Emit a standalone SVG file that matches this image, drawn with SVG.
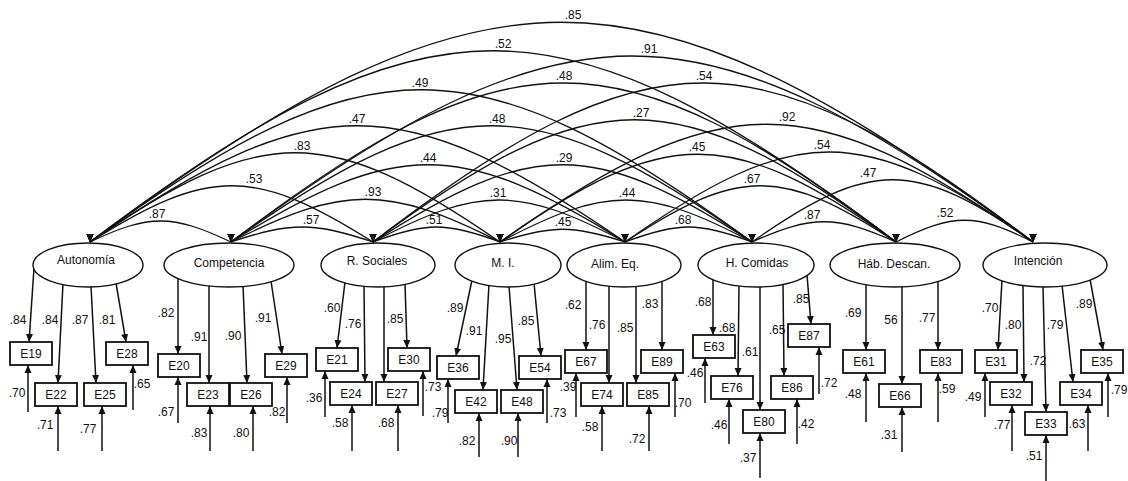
<svg xmlns="http://www.w3.org/2000/svg" width="1128" height="481" viewBox="0 0 1128 481">
<style>
.ln{stroke:#111;stroke-width:1.5;fill:none}
.ld{stroke:#111;stroke-width:1.5;fill:none;marker-end:url(#ah)}
.arc{stroke:#111;stroke-width:1.3;fill:none;marker-start:url(#tipd);marker-end:url(#tipd)}
.lat{fill:#fff;stroke:#111;stroke-width:1.4}
.box{fill:#fff;stroke:#111;stroke-width:1.8}
text{font-family:"Liberation Sans",Arial,sans-serif;font-size:12px;fill:#111;text-anchor:middle}
</style>
<defs>
<marker id="ah" viewBox="0 0 8 8" refX="8" refY="4" markerWidth="8" markerHeight="8" orient="auto" markerUnits="userSpaceOnUse"><path d="M0,0.5 L8,4 L0,7.5 z" fill="#111"/></marker>
<marker id="tipd" viewBox="0 0 8 8" refX="8" refY="4" markerWidth="8" markerHeight="8" orient="90" markerUnits="userSpaceOnUse"><path d="M0,0.5 L8,4 L0,7.5 z" fill="#111"/></marker>
</defs>
<rect width="1128" height="481" fill="#fff"/>
<g id="connectors">
<path class="arc" d="M90,242 C149,214 172,214 231,242"/>
<path class="arc" d="M231,242 C291,222 313,222 373,242"/>
<path class="arc" d="M373,242 C426,222 447,222 500,242"/>
<path class="arc" d="M500,242 C552,225 573,225 625,242"/>
<path class="arc" d="M625,242 C678,222 699,222 752,242"/>
<path class="arc" d="M752,242 C812,215 836,215 896,242"/>
<path class="arc" d="M896,242 C954,213 975,213 1033,242"/>
<path class="arc" d="M90,242 C209,167 254,167 373,242"/>
<path class="arc" d="M231,242 C344,185 387,185 500,242"/>
<path class="arc" d="M373,242 C479,186 519,186 625,242"/>
<path class="arc" d="M500,242 C606,186 646,186 752,242"/>
<path class="arc" d="M625,242 C739,167 782,167 896,242"/>
<path class="arc" d="M752,242 C870,159 915,159 1033,242"/>
<path class="arc" d="M90,242 C262,123 328,123 500,242"/>
<path class="arc" d="M231,242 C396,139 460,139 625,242"/>
<path class="arc" d="M373,242 C532,139 593,139 752,242"/>
<path class="arc" d="M500,242 C666,125 730,125 896,242"/>
<path class="arc" d="M625,242 C796,122 862,122 1033,242"/>
<path class="arc" d="M90,242 C315,87 400,87 625,242"/>
<path class="arc" d="M231,242 C450,87 533,87 752,242"/>
<path class="arc" d="M373,242 C593,79 676,79 896,242"/>
<path class="arc" d="M500,242 C724,85 809,85 1033,242"/>
<path class="arc" d="M90,242 C368,39 474,39 752,242"/>
<path class="arc" d="M231,242 C510,30 617,30 896,242"/>
<path class="arc" d="M373,242 C650,30 756,30 1033,242"/>
<path class="arc" d="M90,242 C428,-13 558,-13 896,242"/>
<path class="arc" d="M231,242 C568,-6 696,-6 1033,242"/>
<path class="arc" d="M90,242 C486,-51 637,-51 1033,242"/>
<path class="ld" d="M34,268 L29,342"/>
<path class="ld" d="M63,283 L58,383"/>
<path class="ld" d="M91,286 L96,383"/>
<path class="ld" d="M116,283 L126,342"/>
<path class="ld" d="M178,277 L178,354"/>
<path class="ld" d="M209,285 L209,383"/>
<path class="ld" d="M243,285 L247,383"/>
<path class="ld" d="M271,281 L282,354"/>
<path class="ld" d="M345,282 L337,348"/>
<path class="ld" d="M364,285 L365,382"/>
<path class="ld" d="M384,286 L384,382"/>
<path class="ld" d="M405,283 L407,348"/>
<path class="ld" d="M472,280 L456,356"/>
<path class="ld" d="M489,284 L483,390"/>
<path class="ld" d="M509,286 L517,390"/>
<path class="ld" d="M534,283 L541,356"/>
<path class="ld" d="M586,280 L586,350"/>
<path class="ld" d="M609,285 L609,383"/>
<path class="ld" d="M636,285 L636,383"/>
<path class="ld" d="M662,280 L662,350"/>
<path class="ld" d="M713,279 L713,335"/>
<path class="ld" d="M739,285 L738,376"/>
<path class="ld" d="M760,286 L760,410"/>
<path class="ld" d="M783,283 L784,376"/>
<path class="ld" d="M807,275 L811,324"/>
<path class="ld" d="M866,284 L866,350"/>
<path class="ld" d="M902,286 L902,384"/>
<path class="ld" d="M938,281 L938,350"/>
<path class="ld" d="M1002,280 L998,350"/>
<path class="ld" d="M1023,285 L1024,382"/>
<path class="ld" d="M1043,286 L1046,412"/>
<path class="ld" d="M1062,285 L1073,382"/>
<path class="ld" d="M1090,279 L1103,350"/>
<path class="ld" d="M28,412 L28,365"/>
<path class="ld" d="M58,451 L58,406"/>
<path class="ld" d="M102,451 L102,406"/>
<path class="ld" d="M133,410 L133,365"/>
<path class="ld" d="M178,423 L178,377"/>
<path class="ld" d="M210,451 L210,406"/>
<path class="ld" d="M253,451 L253,406"/>
<path class="ld" d="M287,423 L287,377"/>
<path class="ld" d="M325,417 L325,371"/>
<path class="ld" d="M352,451 L352,405"/>
<path class="ld" d="M398,451 L398,405"/>
<path class="ld" d="M423,416 L423,371"/>
<path class="ld" d="M448,423 L448,379"/>
<path class="ld" d="M479,457 L479,413"/>
<path class="ld" d="M518,457 L518,413"/>
<path class="ld" d="M547,423 L547,379"/>
<path class="ld" d="M576,417 L576,373"/>
<path class="ld" d="M602,451 L602,406"/>
<path class="ld" d="M649,451 L649,406"/>
<path class="ld" d="M675,417 L675,373"/>
<path class="ld" d="M705,403 L705,358"/>
<path class="ld" d="M729,444 L729,399"/>
<path class="ld" d="M760,478 L760,433"/>
<path class="ld" d="M797,444 L797,399"/>
<path class="ld" d="M819,394 L819,347"/>
<path class="ld" d="M866,422 L866,373"/>
<path class="ld" d="M902,452 L902,407"/>
<path class="ld" d="M938,422 L938,373"/>
<path class="ld" d="M985,417 L985,373"/>
<path class="ld" d="M1012,451 L1012,405"/>
<path class="ld" d="M1046,481 L1046,435"/>
<path class="ld" d="M1088,451 L1088,405"/>
<path class="ld" d="M1108,417 L1108,373"/>
</g>
<g id="labels">
<text x="157" y="218">.87</text>
<text x="311" y="224">.57</text>
<text x="434" y="224">.51</text>
<text x="563" y="226">.45</text>
<text x="683" y="224">.68</text>
<text x="812" y="219">.87</text>
<text x="945" y="217">.52</text>
<text x="254" y="183">.53</text>
<text x="373" y="196">.93</text>
<text x="498" y="197">.31</text>
<text x="627" y="197">.44</text>
<text x="752" y="183">.67</text>
<text x="868" y="177">.47</text>
<text x="302" y="150">.83</text>
<text x="428" y="162">.44</text>
<text x="564" y="162">.29</text>
<text x="697" y="151">.45</text>
<text x="822" y="149">.54</text>
<text x="357" y="123">.47</text>
<text x="497" y="123">.48</text>
<text x="641" y="117">.27</text>
<text x="787" y="121">.92</text>
<text x="420" y="87">.49</text>
<text x="564" y="80">.48</text>
<text x="704" y="80">.54</text>
<text x="503" y="48">.52</text>
<text x="649" y="53">.91</text>
<text x="573" y="19">.85</text>
<text x="18" y="324">.84</text>
<text x="50" y="324">.84</text>
<text x="80" y="324">.87</text>
<text x="107" y="324">.81</text>
<text x="17" y="397">.70</text>
<text x="45" y="429">.71</text>
<text x="88" y="433">.77</text>
<text x="142" y="388">.65</text>
<text x="166" y="317">.82</text>
<text x="199" y="341">.91</text>
<text x="233" y="340">.90</text>
<text x="263" y="322">.91</text>
<text x="166" y="416">.67</text>
<text x="199" y="437">.83</text>
<text x="241" y="437">.80</text>
<text x="277" y="416">.82</text>
<text x="332" y="312">.60</text>
<text x="353" y="328">.76</text>
<text x="395" y="323">.85</text>
<text x="314" y="402">.36</text>
<text x="340" y="427">.58</text>
<text x="386" y="427">.68</text>
<text x="433" y="391">.73</text>
<text x="455" y="312">.89</text>
<text x="474" y="335">.91</text>
<text x="503" y="343">.95</text>
<text x="526" y="325">.85</text>
<text x="440" y="417">.79</text>
<text x="467" y="445">.82</text>
<text x="509" y="445">.90</text>
<text x="558" y="417">.73</text>
<text x="573" y="309">.62</text>
<text x="597" y="329">.76</text>
<text x="625" y="332">.85</text>
<text x="650" y="308">.83</text>
<text x="568" y="391">.39</text>
<text x="590" y="431">.58</text>
<text x="637" y="443">.72</text>
<text x="683" y="407">.70</text>
<text x="703" y="306">.68</text>
<text x="727" y="332">.68</text>
<text x="750" y="356">.61</text>
<text x="777" y="334">.65</text>
<text x="801" y="303">.85</text>
<text x="695" y="377">.46</text>
<text x="719" y="429">.46</text>
<text x="748" y="462">.37</text>
<text x="806" y="428">.42</text>
<text x="829" y="387">.72</text>
<text x="853" y="317">.69</text>
<text x="891" y="324">56</text>
<text x="927" y="322">.77</text>
<text x="853" y="398">.48</text>
<text x="889" y="439">.31</text>
<text x="947" y="393">.59</text>
<text x="990" y="312">.70</text>
<text x="1013" y="329">.80</text>
<text x="1038" y="365">.72</text>
<text x="1055" y="329">.79</text>
<text x="1084" y="308">.89</text>
<text x="973" y="401">.49</text>
<text x="1002" y="429">.77</text>
<text x="1034" y="460">.51</text>
<text x="1077" y="428">.63</text>
<text x="1119" y="394">.79</text>
</g>
<g id="n-autonomia"><ellipse class="lat" cx="88" cy="265" rx="55" ry="22"/><text x="86" y="264">Autonomía</text></g>
<g id="n-competencia"><ellipse class="lat" cx="229" cy="265" rx="65" ry="22"/><text x="229" y="267">Competencia</text></g>
<g id="n-rsociales"><ellipse class="lat" cx="378" cy="265" rx="57" ry="22"/><text x="377" y="265">R. Sociales</text></g>
<g id="n-mi"><ellipse class="lat" cx="508" cy="265" rx="53" ry="22"/><text x="503" y="267">M. I.</text></g>
<g id="n-alimeq"><ellipse class="lat" cx="624" cy="265" rx="57" ry="22"/><text x="615" y="268">Alim. Eq.</text></g>
<g id="n-hcomidas"><ellipse class="lat" cx="756" cy="265" rx="58" ry="22"/><text x="757" y="267">H. Comidas</text></g>
<g id="n-habdescan"><ellipse class="lat" cx="895" cy="265" rx="65" ry="22"/><text x="894" y="268">Háb. Descan.</text></g>
<g id="n-intencion"><ellipse class="lat" cx="1045" cy="265" rx="62" ry="22"/><text x="1038" y="265">Intención</text></g>
<g id="n-E19"><rect class="box" x="10" y="342" width="42" height="23"/><text x="31" y="358">E19</text></g>
<g id="n-E22"><rect class="box" x="35" y="383" width="42" height="23"/><text x="56" y="399">E22</text></g>
<g id="n-E25"><rect class="box" x="84" y="383" width="42" height="23"/><text x="105" y="399">E25</text></g>
<g id="n-E28"><rect class="box" x="106" y="342" width="42" height="23"/><text x="127" y="358">E28</text></g>
<g id="n-E20"><rect class="box" x="158" y="354" width="42" height="23"/><text x="179" y="370">E20</text></g>
<g id="n-E23"><rect class="box" x="187" y="383" width="42" height="23"/><text x="208" y="399">E23</text></g>
<g id="n-E26"><rect class="box" x="230" y="383" width="42" height="23"/><text x="251" y="399">E26</text></g>
<g id="n-E29"><rect class="box" x="265" y="354" width="42" height="23"/><text x="286" y="370">E29</text></g>
<g id="n-E21"><rect class="box" x="316" y="348" width="42" height="23"/><text x="337" y="364">E21</text></g>
<g id="n-E24"><rect class="box" x="330" y="382" width="42" height="23"/><text x="351" y="398">E24</text></g>
<g id="n-E27"><rect class="box" x="376" y="382" width="42" height="23"/><text x="397" y="398">E27</text></g>
<g id="n-E30"><rect class="box" x="388" y="348" width="42" height="23"/><text x="409" y="364">E30</text></g>
<g id="n-E36"><rect class="box" x="437" y="356" width="42" height="23"/><text x="458" y="372">E36</text></g>
<g id="n-E42"><rect class="box" x="455" y="390" width="42" height="23"/><text x="476" y="406">E42</text></g>
<g id="n-E48"><rect class="box" x="501" y="390" width="42" height="23"/><text x="522" y="406">E48</text></g>
<g id="n-E54"><rect class="box" x="519" y="356" width="42" height="23"/><text x="540" y="372">E54</text></g>
<g id="n-E67"><rect class="box" x="565" y="350" width="42" height="23"/><text x="586" y="366">E67</text></g>
<g id="n-E74"><rect class="box" x="581" y="383" width="42" height="23"/><text x="602" y="399">E74</text></g>
<g id="n-E85"><rect class="box" x="627" y="383" width="42" height="23"/><text x="648" y="399">E85</text></g>
<g id="n-E89"><rect class="box" x="641" y="350" width="42" height="23"/><text x="662" y="366">E89</text></g>
<g id="n-E63"><rect class="box" x="693" y="335" width="42" height="23"/><text x="714" y="351">E63</text></g>
<g id="n-E76"><rect class="box" x="711" y="376" width="42" height="23"/><text x="732" y="392">E76</text></g>
<g id="n-E80"><rect class="box" x="743" y="410" width="42" height="23"/><text x="764" y="426">E80</text></g>
<g id="n-E86"><rect class="box" x="771" y="376" width="42" height="23"/><text x="792" y="392">E86</text></g>
<g id="n-E87"><rect class="box" x="788" y="324" width="42" height="23"/><text x="809" y="340">E87</text></g>
<g id="n-E61"><rect class="box" x="843" y="350" width="42" height="23"/><text x="864" y="366">E61</text></g>
<g id="n-E66"><rect class="box" x="879" y="384" width="42" height="23"/><text x="900" y="400">E66</text></g>
<g id="n-E83"><rect class="box" x="920" y="350" width="42" height="23"/><text x="941" y="366">E83</text></g>
<g id="n-E31"><rect class="box" x="975" y="350" width="42" height="23"/><text x="996" y="366">E31</text></g>
<g id="n-E32"><rect class="box" x="990" y="382" width="42" height="23"/><text x="1011" y="398">E32</text></g>
<g id="n-E33"><rect class="box" x="1025" y="412" width="42" height="23"/><text x="1046" y="428">E33</text></g>
<g id="n-E34"><rect class="box" x="1060" y="382" width="42" height="23"/><text x="1081" y="398">E34</text></g>
<g id="n-E35"><rect class="box" x="1081" y="350" width="42" height="23"/><text x="1102" y="366">E35</text></g>
</svg>
